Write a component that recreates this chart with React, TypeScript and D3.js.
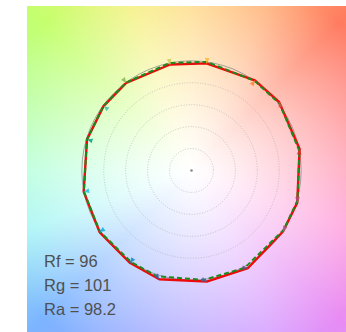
import React, { useMemo } from "react";
import * as d3 from "d3";

// TM-30 hue-bin colours (16 bins)
const binColors = [
  "#e62828", "#e74b4b", "#fb812e", "#ffb529", "#cbca46", "#7eb94c", "#41c0ab", "#009c7c",
  "#16bcd2", "#00a4df", "#0085c3", "#3b62aa", "#4568ae", "#6a4e85", "#9d69a1", "#a74f81",
];
// test source vertices (hue angle in degrees, normalised radius)
const testAngle = [11.2, 38.1, 54.9, 82.0, 101.4, 126.7, 143.8, 163.4, 191.1, 213.8, 236.5, 253.5, 277.8, 300.1, 326.3, 343.1];
const testRadius = [1.005, 1.014, 1.005, 0.986, 0.986, 0.996, 0.994, 0.994, 1.002, 1.009, 1.012, 1.034, 1.022, 1.028, 1.003, 1.008];
// reference vertices
const refAngle = [10.2, 37.1, 54.9, 82.0, 101.4, 126.7, 143.8, 163.4, 191.1, 213.8, 236.5, 252.0, 276.3, 298.6, 327.3, 344.1];
const refRadius = [1.0, 1.008, 1.0, 1.0, 1.0, 1.0, 0.995, 0.995, 1.0, 1.004, 1.0, 1.014, 1.004, 1.012, 1.0, 1.004];

const gridRadii = [0.2, 0.4, 0.6, 0.8];
const indexLabels = ["Rf = 96", "Rg = 101", "Ra = 98.2"];

// background hue wheel
const hueStopAngles = [0, 20, 45, 65, 90, 110, 135, 155, 180, 200, 225, 250, 270, 295, 315, 340, 360];
const hueStopColors = [
  "#ff94b0", "#ff8a8c", "#ff7c60", "#ffae74", "#ffd880", "#f4f07a", "#c4ff6e", "#b8ff98",
  "#b0ffd8", "#a0f4f4", "#7cb4ff", "#98a8ff", "#b4a4ff", "#d49cff", "#e88cf4", "#ff96d8", "#ff94b0",
];

const W = 346;
const H = 332;
const x = d3.scaleLinear().domain([-1.5, 1.5]).range([27, 356]);
const y = d3.scaleLinear().domain([-1.5, 1.5]).range([335, 6]);
const rPx = (r: number) => x(r) - x(0);

function polar(angDeg: number, r: number): [number, number] {
  const a = (angDeg * Math.PI) / 180;
  return [x(r * Math.cos(a)), y(r * Math.sin(a))];
}

function makeBackground(): string {
  if (typeof document === "undefined") return "";
  const size = 329;
  const c = document.createElement("canvas");
  c.width = size;
  c.height = size;
  const ctx = c.getContext("2d");
  if (!ctx) return "";
  const img = ctx.createImageData(size, size);
  const hue = d3
    .scaleLinear<string>()
    .domain(hueStopAngles)
    .range(hueStopColors)
    .interpolate(d3.interpolateRgb);
  for (let j = 0; j < size; j++) {
    for (let i = 0; i < size; i++) {
      const u = ((i + 0.5) / size) * 3 - 1.5;
      const v = 1.5 - ((j + 0.5) / size) * 3;
      const d = Math.sqrt(u * u + v * v);
      let ang = (Math.atan2(v, u) * 180) / Math.PI;
      if (ang < 0) ang += 360;
      const col = d3.rgb(hue(ang));
      const m = Math.pow(Math.min(1, d / 1.9), 1.15);
      const k = (j * size + i) * 4;
      img.data[k] = 255 + (col.r - 255) * m;
      img.data[k + 1] = 255 + (col.g - 255) * m;
      img.data[k + 2] = 255 + (col.b - 255) * m;
      img.data[k + 3] = 255;
    }
  }
  ctx.putImageData(img, 0, 0);
  return c.toDataURL();
}

export default function App() {
  const bg = useMemo(() => makeBackground(), []);
  const testPts = testAngle.map((a, i) => polar(a, testRadius[i]));
  const refPts = refAngle.map((a, i) => polar(a, refRadius[i]));
  const line = d3.line().curve(d3.curveLinearClosed);

  const arrows = testPts.map((tp, i) => {
    const rp = refPts[i];
    let dx = tp[0] - rp[0];
    let dy = tp[1] - rp[1];
    let len = Math.hypot(dx, dy);
    if (len < 0.3) {
      dx = tp[0] - x(0);
      dy = tp[1] - y(0);
      len = Math.hypot(dx, dy);
    }
    const ux = dx / len;
    const uy = dy / len;
    const L = 5.5;
    const hw = 2.4;
    const bx = tp[0] - ux * L;
    const by = tp[1] - uy * L;
    const p = `M${tp[0]},${tp[1]}L${bx - uy * hw},${by + ux * hw}L${bx + uy * hw},${by - ux * hw}Z`;
    return { p, rp, tp, color: binColors[i] };
  });

  return (
    <svg
      width={W}
      height={H}
      style={{ position: "absolute", left: 0, top: 0 }}
      xmlns="http://www.w3.org/2000/svg"
    >
      <rect x={0} y={0} width={W} height={H} fill="#ffffff" />
      {bg && <image href={bg} x={x(-1.5)} y={y(1.5)} width={x(1.5) - x(-1.5)} height={y(-1.5) - y(1.5)} preserveAspectRatio="none" />}
      {gridRadii.map((r) => (
        <circle key={r} cx={x(0)} cy={y(0)} r={rPx(r)} fill="none" stroke="#a8a8a8" strokeWidth={0.8} strokeDasharray="1 1.6" opacity={0.75} />
      ))}
      <circle cx={x(0)} cy={y(0)} r={rPx(1)} fill="none" stroke="#808080" strokeWidth={1} opacity={0.7} />
      <circle cx={x(0)} cy={y(0)} r={1.3} fill="#888" />
      <path d={line(testPts) || ""} fill="none" stroke="#ee0a0a" strokeWidth={2.4} strokeLinejoin="round" />
      <path d={line(refPts) || ""} fill="none" stroke="#1c8a1c" strokeWidth={2} strokeDasharray="5 3" />
      {arrows.map((a, i) => (
        <g key={i} opacity={0.8}>
          <line x1={a.rp[0]} y1={a.rp[1]} x2={a.tp[0]} y2={a.tp[1]} stroke={a.color} strokeWidth={1.2} />
          <path d={a.p} fill={a.color} />
        </g>
      ))}
      {indexLabels.map((t, i) => (
        <text key={t} x={44} y={266.7 + i * 24.2} fontFamily="'Liberation Sans', Arial, sans-serif" fontSize={16.5} fill="#505050">
          {t}
        </text>
      ))}
    </svg>
  );
}
